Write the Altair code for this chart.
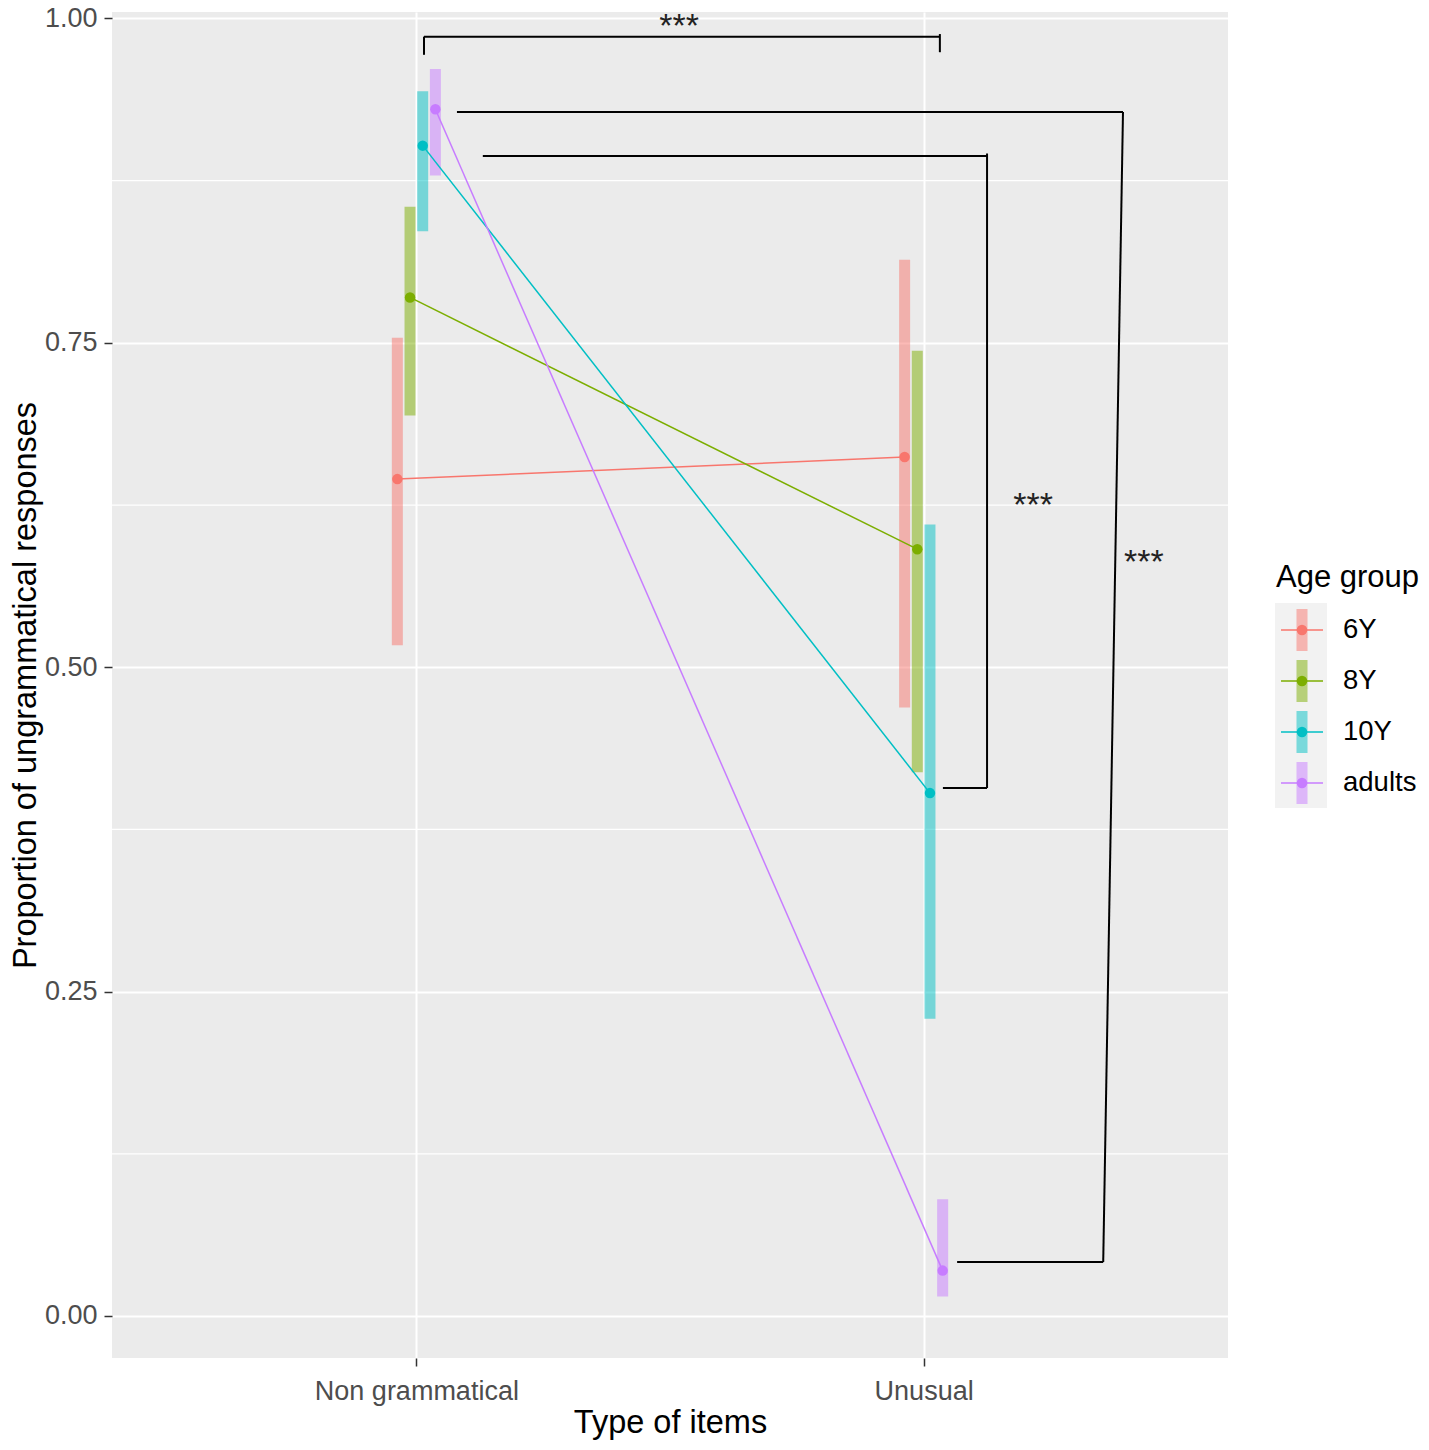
import altair as alt
import pandas as pd

# ---------------- data ----------------
groups = ["6Y", "8Y", "10Y", "adults"]
item_types = ["Non grammatical", "Unusual"]
colors = ["#F8766D", "#7CAE00", "#00BFC4", "#C77CFF"]

mean_nongram = [0.645, 0.785, 0.902, 0.930]
low_nongram = [0.517, 0.694, 0.836, 0.879]
high_nongram = [0.754, 0.855, 0.944, 0.961]

mean_unusual = [0.662, 0.591, 0.403, 0.035]
low_unusual = [0.469, 0.419, 0.229, 0.015]
high_unusual = [0.814, 0.744, 0.610, 0.090]

y_ticks = [0.0, 0.25, 0.5, 0.75, 1.0]
y_minor = [0.125, 0.375, 0.625, 0.875]

# significance brackets: segment end points in data units
seg_x = [1.015, 1.015, 2.032, 1.131, 2.125, 2.038, 1.080, 2.393, 2.066]
seg_y = [0.972, 0.986, 0.988, 0.894, 0.896, 0.407, 0.928, 0.928, 0.0416]
seg_x2 = [1.015, 2.032, 2.032, 2.125, 2.125, 2.125, 2.393, 2.354, 2.354]
seg_y2 = [0.986, 0.986, 0.974, 0.894, 0.407, 0.407, 0.928, 0.0416, 0.0416]

star_labels = ["***", "***", "***"]
star_x = [1.518, 2.216, 2.434]
star_y = [0.9975, 0.628, 0.584]

legend_title = "Age group"
x_title = "Type of items"
y_title = "Proportion of ungrammatical responses"

# ---------------- tables ----------------
dodge = 0.025
rows = []
for ti, (means, lows, highs) in enumerate(
    [(mean_nongram, low_nongram, high_nongram), (mean_unusual, low_unusual, high_unusual)]
):
    for gi, g in enumerate(groups):
        rows.append(
            {
                "group": g,
                "type": item_types[ti],
                "xpos": ti + 1 + (gi - 1.5) * dodge,
                "mean": means[gi],
                "lo": lows[gi],
                "hi": highs[gi],
            }
        )
df = pd.DataFrame(rows)
seg_df = pd.DataFrame({"x": seg_x, "y": seg_y, "x2": seg_x2, "y2": seg_y2})
star_df = pd.DataFrame({"x": star_x, "y": star_y, "label": star_labels})
minor_df = pd.DataFrame({"v": y_minor})
leg_df = pd.DataFrame({"group": groups, "idx": list(range(len(groups)))})
one_df = pd.DataFrame({"t": [legend_title]})

FONT = "Liberation Sans"

x_scale = alt.Scale(domain=[0.4, 2.6], nice=False, zero=False)
y_scale = alt.Scale(domain=[-0.03237, 1.005], nice=False, zero=False)

label_expr = "[" + ",".join("'" + t + "'" for t in item_types) + "][datum.value - 1]"

common_axis = dict(
    grid=True,
    gridColor="white",
    gridWidth=2,
    domain=False,
    tickColor="#333333",
    tickWidth=1.5,
    tickSize=8,
    labelFont=FONT,
    labelFontSize=27,
    labelColor="#4D4D4D",
    labelLimit=0,
    titleFont=FONT,
    titleFontSize=32.5,
    titleFontWeight="normal",
    titleColor="black",
)
x_axis = alt.Axis(
    values=[1, 2], labelExpr=label_expr, title=x_title, labelPadding=12, titlePadding=2,
    **common_axis
)
y_axis = alt.Axis(
    values=y_ticks, format=".2f", title=y_title, labelPadding=7, titlePadding=2,
    **common_axis
)

color_enc = alt.Color("group:N", scale=alt.Scale(domain=groups, range=colors), legend=None)


def X(field):
    return alt.X(field, type="quantitative", scale=x_scale, axis=x_axis)


def Y(field):
    return alt.Y(field, type="quantitative", scale=y_scale, axis=y_axis)


minor_grid = alt.Chart(minor_df).mark_rule(color="white", strokeWidth=1.2).encode(y=Y("v"))

errbars = alt.Chart(df).mark_rule(strokeWidth=11, opacity=0.5, strokeCap="butt").encode(
    x=X("xpos"), y=Y("lo"), y2="hi", color=color_enc
)
lines = alt.Chart(df).mark_line(strokeWidth=1.5).encode(
    x=X("xpos"), y=Y("mean"), color=color_enc, detail="group:N"
)
points = alt.Chart(df).mark_circle(size=110, opacity=1).encode(
    x=X("xpos"), y=Y("mean"), color=color_enc
)
segs = alt.Chart(seg_df).mark_rule(color="black", strokeWidth=2).encode(
    x=X("x"), y=Y("y"), x2="x2", y2="y2"
)
stars = alt.Chart(star_df).mark_text(
    font=FONT, fontSize=34, color="#222222", baseline="alphabetic", align="center", dy=15
).encode(x=X("x"), y=Y("y"), text="label:N")

main = alt.layer(minor_grid, errbars, lines, points, segs, stars)

# ---------------- legend (ggplot-like keys) ----------------
leg_y = alt.Y(
    "idx:Q",
    scale=alt.Scale(domain=[0, len(groups) - 1], range=[618, 771], nice=False, zero=False),
    axis=None,
)
leg_bg = alt.Chart(one_df).mark_rect(color="#F2F2F2").encode(
    x=alt.value(1163), x2=alt.value(1215), y=alt.value(591), y2=alt.value(796)
)
leg_bar = alt.Chart(leg_df).mark_point(
    shape="M-0.262,-1H0.262V1H-0.262Z", filled=True, opacity=0.5, size=1764
).encode(x=alt.value(1190), y=leg_y, color=color_enc)
leg_line = alt.Chart(leg_df).mark_rule(strokeWidth=1.5).encode(
    x=alt.value(1169), x2=alt.value(1211), y=leg_y, color=color_enc
)
leg_dot = alt.Chart(leg_df).mark_circle(size=110, opacity=1).encode(
    x=alt.value(1190), y=leg_y, color=color_enc
)
leg_text = alt.Chart(leg_df).mark_text(
    font=FONT, fontSize=27.5, color="black", align="left", baseline="middle"
).encode(x=alt.value(1231), y=leg_y, text="group:N")
leg_title = alt.Chart(one_df).mark_text(
    font=FONT, fontSize=31, color="black", align="left", baseline="middle"
).encode(x=alt.value(1164), y=alt.value(566), text="t:N")

legend = alt.layer(leg_bg, leg_bar, leg_line, leg_dot, leg_text, leg_title)

chart = (
    alt.layer(main, legend)
    .resolve_scale(y="independent")
    .properties(
        width=1116,
        height=1346,
        padding={"left": 104, "top": 4, "right": 193, "bottom": 82},
        autosize=alt.AutoSizeParams(type="none"),
        background="white",
    )
    .configure_view(fill="#EBEBEB", strokeWidth=0)
)

chart.save("out.html", embed_options={"renderer": "svg", "actions": False})
